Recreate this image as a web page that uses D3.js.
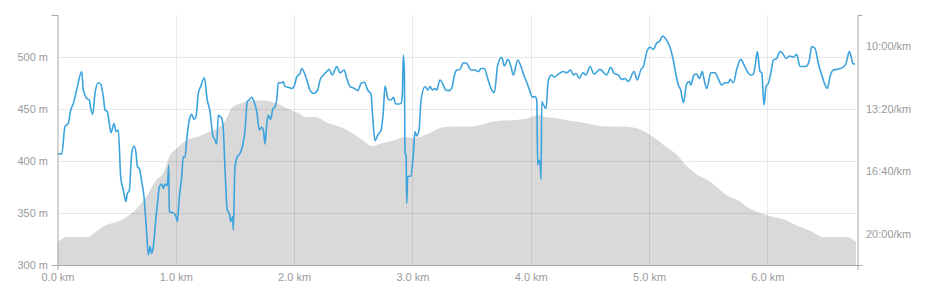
<!DOCTYPE html>
<html>
<head>
<meta charset="utf-8">
<script src="https://d3js.org/d3.v7.min.js"></script>
<style>
  html, body { margin: 0; padding: 0; background: #fff; }
  svg { display: block; }
  .axis text { font-family: "Liberation Sans", Arial, Helvetica, sans-serif; font-size: 11px; fill: #9a9a9a; }
  .axis path, .axis line { stroke: #a8a8a8; }
</style>
</head>
<body>
<svg id="chart" width="943" height="299"></svg>
<script>
// ---- data ----
// distance (km) for the elevation profile
const elevKm = [0, 0.078, 0.260, 0.303, 0.387, 0.556, 0.669, 0.754, 0.839, 0.894, 0.945, 1.008, 1.092, 1.177, 1.289, 1.374, 1.430, 1.473, 1.543, 1.655, 1.740, 1.853, 1.965, 2.050, 2.092, 2.177, 2.289, 2.402, 2.515, 2.599, 2.661, 2.712, 2.825, 2.937, 3.022, 3.134, 3.248, 3.360, 3.501, 3.698, 3.839, 3.980, 4.064, 4.121, 4.220, 4.360, 4.473, 4.614, 4.755, 4.867, 4.924, 5.036, 5.150, 5.234, 5.319, 5.403, 5.488, 5.572, 5.657, 5.769, 5.854, 5.938, 6.051, 6.135, 6.248, 6.361, 6.473, 6.572, 6.671, 6.750];
// elevation (m)
const elevM = [322, 327, 327, 330, 337, 344, 354, 366, 382, 388, 404, 412, 420, 423, 428, 433, 441, 451, 455, 458, 458, 455, 449, 445, 442, 442, 436, 432, 425, 418, 414, 416, 419, 423, 422, 426, 432, 433, 433, 438, 439, 441, 444, 442, 441, 438, 436, 433, 433, 432, 430, 423, 413, 406, 395, 387, 382, 375, 367, 361, 354, 350, 346, 344, 338, 333, 327, 327, 327, 322];

// distance (km) for the pace series
const paceKm = [0, 0.036, 0.063, 0.091, 0.112, 0.134, 0.162, 0.205, 0.218, 0.247, 0.269, 0.281, 0.298, 0.317, 0.345, 0.365, 0.387, 0.402, 0.421, 0.438, 0.452, 0.478, 0.495, 0.514, 0.534, 0.556, 0.579, 0.590, 0.607, 0.627, 0.647, 0.664, 0.675, 0.691, 0.712, 0.731, 0.754, 0.768, 0.782, 0.796, 0.810, 0.833, 0.844, 0.861, 0.881, 0.894, 0.909, 0.928, 0.940, 0.945, 0.979, 1.002, 1.013, 1.030, 1.050, 1.063, 1.078, 1.092, 1.114, 1.134, 1.154, 1.171, 1.190, 1.210, 1.241, 1.266, 1.289, 1.312, 1.331, 1.346, 1.359, 1.374, 1.388, 1.402, 1.416, 1.435, 1.452, 1.464, 1.481, 1.486, 1.500, 1.520, 1.543, 1.566, 1.585, 1.604, 1.621, 1.642, 1.661, 1.684, 1.706, 1.726, 1.740, 1.754, 1.768, 1.782, 1.802, 1.819, 1.839, 1.853, 1.866, 1.895, 1.909, 1.923, 1.951, 1.980, 1.999, 2.022, 2.050, 2.064, 2.098, 2.134, 2.162, 2.199, 2.219, 2.247, 2.276, 2.295, 2.323, 2.360, 2.388, 2.424, 2.445, 2.473, 2.509, 2.538, 2.566, 2.593, 2.622, 2.650, 2.664, 2.684, 2.707, 2.735, 2.754, 2.768, 2.796, 2.819, 2.839, 2.859, 2.887, 2.904, 2.915, 2.923, 2.932, 2.937, 2.946, 2.952, 2.960, 2.988, 3.008, 3.022, 3.036, 3.056, 3.073, 3.107, 3.129, 3.149, 3.168, 3.191, 3.205, 3.233, 3.261, 3.281, 3.309, 3.332, 3.354, 3.374, 3.402, 3.430, 3.459, 3.495, 3.529, 3.557, 3.580, 3.608, 3.636, 3.664, 3.692, 3.721, 3.755, 3.777, 3.806, 3.833, 3.853, 3.890, 3.918, 3.946, 3.975, 3.994, 4.014, 4.036, 4.051, 4.059, 4.070, 4.079, 4.087, 4.093, 4.112, 4.129, 4.149, 4.178, 4.197, 4.233, 4.276, 4.304, 4.338, 4.360, 4.383, 4.411, 4.440, 4.467, 4.501, 4.535, 4.586, 4.642, 4.676, 4.704, 4.740, 4.769, 4.797, 4.825, 4.873, 4.901, 4.930, 4.952, 4.986, 5.008, 5.036, 5.065, 5.087, 5.116, 5.144, 5.177, 5.205, 5.228, 5.248, 5.268, 5.290, 5.319, 5.341, 5.353, 5.380, 5.403, 5.425, 5.451, 5.465, 5.488, 5.522, 5.558, 5.577, 5.615, 5.642, 5.670, 5.685, 5.713, 5.741, 5.775, 5.803, 5.831, 5.860, 5.882, 5.896, 5.916, 5.938, 5.953, 5.972, 5.989, 6.008, 6.029, 6.051, 6.079, 6.107, 6.130, 6.158, 6.186, 6.220, 6.248, 6.276, 6.310, 6.333, 6.355, 6.375, 6.403, 6.431, 6.460, 6.488, 6.507, 6.530, 6.558, 6.587, 6.614, 6.642, 6.665, 6.693, 6.708, 6.722, 6.741];
// pace (seconds per km)
const paceSec = [945, 945, 857, 847, 804, 783, 740, 681, 740, 767, 772, 799, 818, 751, 717, 721, 761, 804, 809, 847, 877, 847, 873, 868, 1017, 1060, 1097, 1071, 1062, 943, 919, 943, 985, 991, 1033, 1081, 1199, 1268, 1241, 1263, 1241, 1145, 1108, 1049, 1041, 1055, 1041, 1047, 980, 1129, 1133, 1145, 1161, 1081, 1017, 953, 955, 900, 836, 818, 834, 825, 751, 729, 701, 772, 809, 884, 900, 913, 820, 825, 831, 868, 996, 1124, 1135, 1161, 1145, 1188, 985, 953, 943, 916, 868, 777, 772, 763, 777, 809, 868, 859, 868, 913, 852, 820, 834, 802, 793, 772, 717, 717, 713, 729, 731, 735, 729, 699, 687, 671, 697, 740, 751, 740, 708, 692, 681, 674, 692, 665, 685, 676, 703, 729, 735, 742, 719, 715, 740, 753, 825, 902, 884, 868, 809, 727, 770, 772, 763, 785, 785, 783, 751, 628, 676, 943, 948, 1103, 1017, 1015, 943, 873, 887, 868, 772, 729, 740, 729, 740, 735, 740, 708, 724, 740, 742, 735, 695, 676, 674, 653, 655, 676, 676, 681, 671, 671, 703, 735, 749, 660, 635, 663, 642, 665, 692, 644, 665, 697, 724, 745, 763, 761, 772, 980, 964, 975, 1026, 777, 791, 799, 708, 692, 699, 689, 681, 685, 676, 692, 687, 703, 685, 692, 665, 689, 674, 692, 667, 687, 692, 706, 703, 713, 681, 708, 676, 665, 612, 603, 610, 589, 585, 567, 578, 603, 644, 692, 724, 740, 781, 719, 713, 724, 692, 689, 703, 681, 706, 735, 685, 685, 697, 724, 717, 717, 706, 717, 674, 642, 660, 681, 692, 689, 665, 617, 681, 685, 788, 729, 719, 687, 644, 639, 617, 623, 639, 631, 635, 626, 665, 665, 663, 644, 601, 607, 655, 692, 724, 735, 697, 676, 674, 671, 667, 655, 617, 633, 655, 657];

// axes
const kmTicks = [0, 1, 2, 3, 4, 5, 6];
const elevTicks = [300, 350, 400, 450, 500];
const paceTicks = [600, 800, 1000, 1200];
const kmMax = 6.762;
const elevDomain = [300, 540];
const paceDomain = [500, 1300];

// ---- drawing ----
const svg = d3.select("#chart");
const padL = 57.5, padR = 857.5, padT = 15, padB = 265;

const x = d3.scaleLinear().domain([0, kmMax]).range([padL, padR]);
const yE = d3.scaleLinear().domain(elevDomain).range([padB, padT]);
const yP = d3.scaleLinear().domain(paceDomain).range([padT, padB]);

// elevation area
const elevData = elevKm.map((k, i) => ({k, v: elevM[i]}));
svg.append("path")
  .datum(elevData)
  .attr("fill", "#d9d9d9")
  .attr("d", d3.area().curve(d3.curveMonotoneX).x(d => x(d.k)).y0(yE(elevDomain[0])).y1(d => yE(d.v)));

// grid
const grid = svg.append("g");
grid.selectAll("line.h").data(elevTicks.slice(1)).enter().append("line")
  .attr("x1", padL).attr("x2", padR)
  .attr("y1", d => Math.round(yE(d)) + 0.5).attr("y2", d => Math.round(yE(d)) + 0.5)
  .attr("stroke", "rgba(0,0,0,0.085)");
grid.selectAll("line.v").data(kmTicks.slice(1)).enter().append("line")
  .attr("y1", padT).attr("y2", padB)
  .attr("x1", d => Math.round(x(d)) + 0.5).attr("x2", d => Math.round(x(d)) + 0.5)
  .attr("stroke", "rgba(0,0,0,0.085)");

// pace line
const paceData = paceKm.map((k, i) => ({k, v: paceSec[i]}));
svg.append("path")
  .datum(paceData)
  .attr("fill", "none")
  .attr("stroke", "#3ca3dc")
  .attr("stroke-width", 1.6)
  .attr("stroke-linejoin", "round")
  .attr("d", d3.line().curve(d3.curveMonotoneX).x(d => x(d.k)).y(d => yP(d.v)));

// axes
const fmtPace = s => Math.floor(s / 60) + ":" + String(Math.round(s % 60)).padStart(2, "0") + "/km";

svg.append("g").attr("class", "axis")
  .attr("transform", `translate(${padL},0)`)
  .call(d3.axisLeft(yE).tickValues(elevTicks).tickFormat(d => d + " m")
    .tickSizeInner(0).tickSizeOuter(6).tickPadding(9.5));

svg.append("g").attr("class", "axis")
  .attr("transform", `translate(${padR},0)`)
  .call(d3.axisRight(yP).tickValues(paceTicks).tickFormat(fmtPace)
    .tickSizeInner(0).tickSizeOuter(5).tickPadding(8.5));

svg.append("g").attr("class", "axis")
  .attr("transform", `translate(0,${padB})`)
  .call(d3.axisBottom(x).tickValues(kmTicks).tickFormat(d => d.toFixed(1) + " km")
    .tickSizeInner(0).tickSizeOuter(5).tickPadding(8.5));

svg.selectAll(".axis .domain").attr("stroke", "#a8a8a8");
</script>
</body>
</html>
